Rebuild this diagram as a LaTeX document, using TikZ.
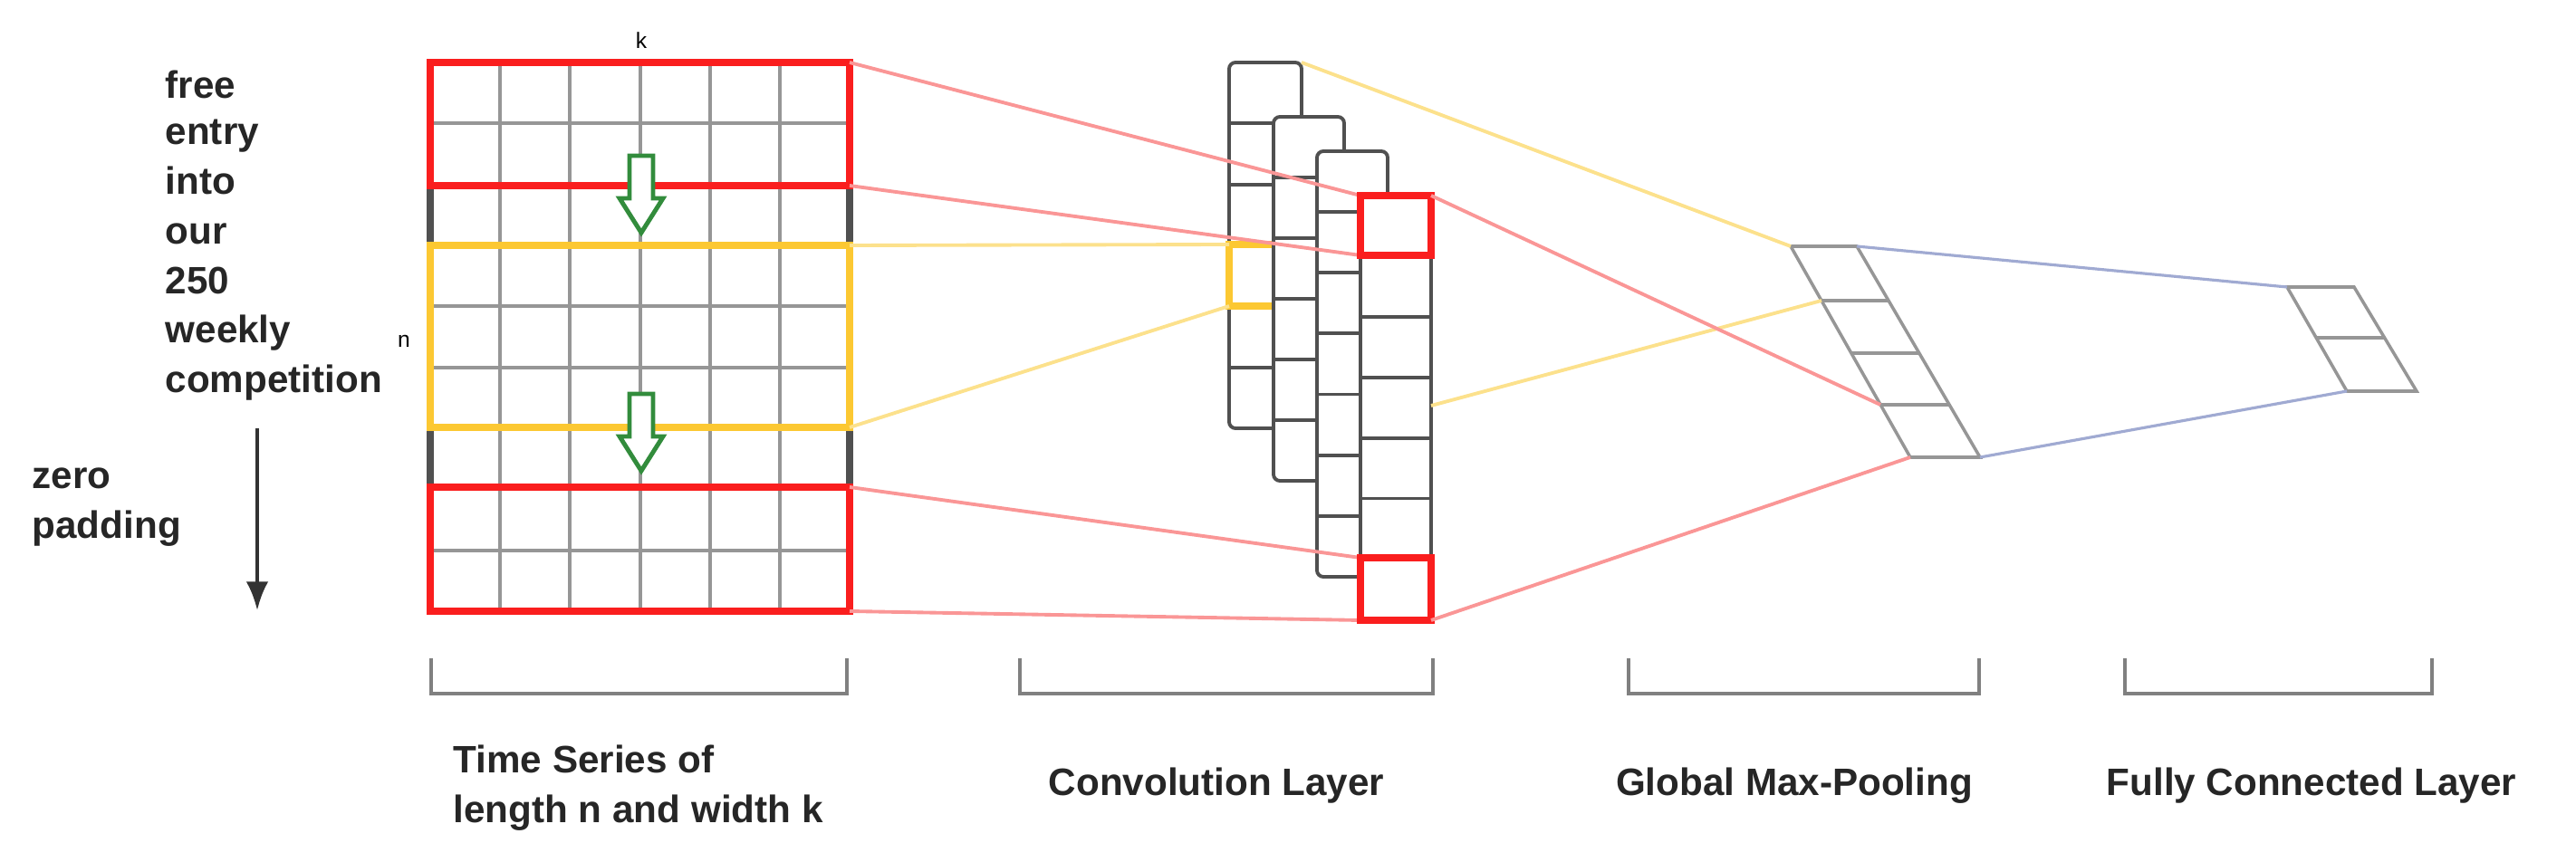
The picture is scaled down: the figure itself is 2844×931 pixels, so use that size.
\documentclass[tikz,border=0pt]{standalone}
\usepackage{fontspec}
\setmainfont{Liberation Sans}
\usetikzlibrary{calc,arrows.meta}
\definecolor{gridg}{RGB}{150,150,150}
\definecolor{darkg}{RGB}{80,80,80}
\definecolor{myred}{RGB}{250,30,30}
\definecolor{lred}{RGB}{250,150,150}
\definecolor{myyel}{RGB}{252,200,50}
\definecolor{lyel}{RGB}{252,225,140}
\definecolor{lblue}{RGB}{160,170,210}
\definecolor{mygreen}{RGB}{50,140,60}
\begin{document}
\begin{tikzpicture}[x=0.01cm,y=-0.01cm,
  lbl/.style={font=\fontsize{12}{15.6}\selectfont\bfseries,text=black!85,inner sep=0pt},
  gridline/.style={draw=gridg,line width=1.1pt},
  col/.style={draw=darkg,line width=1.1pt,fill=white,rounded corners=2pt},
  redbox/.style={draw=myred,line width=2.3pt},
  yelbox/.style={draw=myyel,line width=2.3pt},
  redcon/.style={draw=lred,line width=1.1pt},
  yelcon/.style={draw=lyel,line width=1.1pt},
  bluecon/.style={draw=lblue,line width=0.9pt},
  brack/.style={draw=gray,line width=1.4pt},
  garrow/.style={draw=mygreen,line width=1.4pt,fill=white}]
\useasboundingbox (0,0) rectangle (2844,931);
% left texts
\node[lbl,anchor=west,align=left] (txt) at (182,260) {free\\[-1pt]entry\\into\\our\\250\\weekly\\competition};
\node[lbl,anchor=west,align=left] (zp) at (35,560) {zero\\padding};
\coordinate (zpa) at (284,473); \coordinate (zpb) at (284,674);
\draw[line width=1.2pt,black!80,-{Latex[length=9pt,width=7pt]}] (zpa) -- (zpb);
% input grid
\foreach \i in {1,...,5} \draw[gridline] ({475+\i*77.2},69) -- ({475+\i*77.2},675);
\foreach \j in {1,...,8} \draw[gridline] (475,{69+\j*67.33}) -- (938,{69+\j*67.33});
\draw[draw=darkg,line width=2pt] (475,69) rectangle (938,675);
\draw[redbox] (475,69) rectangle (938,205);
\draw[redbox] (475,538) rectangle (938,675);
\draw[yelbox] (475,271) rectangle (938,472);
\node[font=\fontsize{7}{8}\selectfont,inner sep=0pt] (k) at (708,45) {k};
\node[font=\fontsize{7}{8}\selectfont,inner sep=0pt] (n) at (446,377) {n};
\draw[garrow] (695,172) -- (721,172) -- (721,219) -- (732,219) -- (708,257) -- (684,219) -- (695,219) -- cycle;
\draw[garrow] (695,435) -- (721,435) -- (721,482) -- (732,482) -- (708,520) -- (684,482) -- (695,482) -- cycle;
% conv columns
\draw[col] (1357,69) rectangle (1437,473);
\foreach \j in {1,...,5} \draw[darkg,line width=1.1pt] (1357,{69+\j*67.33}) -- (1437,{69+\j*67.33});
\draw[myyel,line width=2.3pt] (1406,270) -- (1357,270) -- (1357,338) -- (1406,338);
\draw[col] (1406,129) rectangle (1484,531);
\foreach \j in {1,...,5} \draw[darkg,line width=1.1pt] (1406,{129+\j*67}) -- (1484,{129+\j*67});
\draw[col] (1454,167) rectangle (1532,637);
\foreach \j in {1,...,6} \draw[darkg,line width=1.1pt] (1454,{167+\j*67.14}) -- (1532,{167+\j*67.14});
% connectors from input
\coordinate (g1) at (938,69); \coordinate (g2) at (938,205);
\coordinate (g3) at (938,538); \coordinate (g4) at (938,675);
\coordinate (gy1) at (938,271); \coordinate (gy2) at (938,472);
\coordinate (c1) at (1502,216); \coordinate (c2) at (1502,282);
\coordinate (c3) at (1502,616); \coordinate (c4) at (1502,685);
\coordinate (cy1) at (1357,270); \coordinate (cy2) at (1357,338);
\draw[redcon] (g1) -- (c1); \draw[redcon] (g2) -- (c2);
\draw[redcon] (g3) -- (c3); \draw[redcon] (g4) -- (c4);
\draw[yelcon] (gy1) -- (cy1); \draw[yelcon] (gy2) -- (cy2);
% front column
\draw[col] (1502,216) rectangle (1580,685);
\foreach \j in {1,...,6} \draw[darkg,line width=1.1pt] (1502,{216+\j*66.9}) -- (1580,{216+\j*66.9});
\draw[redbox] (1502,216) rectangle (1580,282);
\draw[redbox] (1502,616) rectangle (1580,685);
% pooling
\coordinate (p0) at (1977,272); \coordinate (p1) at (2011,332);
\coordinate (p2) at (2044,390); \coordinate (p3) at (2076,447);
\coordinate (p4) at (2109,505);
\draw[gridline,line width=1pt] (p0) -- (p4) -- ++(77,0) -- ($(p0)+(73,0)$) -- cycle;
\foreach \p in {p1,p2,p3} \draw[gridline,line width=1pt] (\p) -- ++(75,0);
% fc
\coordinate (f0) at (2525,317); \coordinate (f1) at (2557,373); \coordinate (f2) at (2591,432);
\draw[gridline,line width=1pt] (f0) -- (f2) -- ++(77,0) -- ($(f0)+(74,0)$) -- cycle;
\draw[gridline,line width=1pt] (f1) -- ++(76,0);
% connectors to pooling
\coordinate (ct) at (1437,69); \coordinate (cm) at (1580,448);
\coordinate (cr1) at (1580,216); \coordinate (cr2) at (1580,685);
\draw[yelcon] (ct) -- (p0); \draw[yelcon] (cm) -- (p1);
\draw[redcon] (cr1) -- (p3); \draw[redcon] (cr2) -- (p4);
\coordinate (pt) at (2050,272); \coordinate (pb) at (2186,505);
\draw[bluecon] (pt) -- (f0); \draw[bluecon] (pb) -- (f2);
% brackets
\draw[brack] (476,727) -- (476,766) -- (935,766) -- (935,727);
\draw[brack] (1126,727) -- (1126,766) -- (1582,766) -- (1582,727);
\draw[brack] (1798,727) -- (1798,766) -- (2185,766) -- (2185,727);
\draw[brack] (2346,727) -- (2346,766) -- (2685,766) -- (2685,727);
% labels
\node[lbl,anchor=west,align=left] (l1) at (500,870) {Time Series of\\length n and width k};
\node[lbl] (l2) at (1343,868) {Convolution Layer};
\node[lbl] (l3) at (1981,868) {Global Max-Pooling};
\node[lbl] (l4) at (2552,868) {Fully Connected Layer};
\end{tikzpicture}
\end{document}
